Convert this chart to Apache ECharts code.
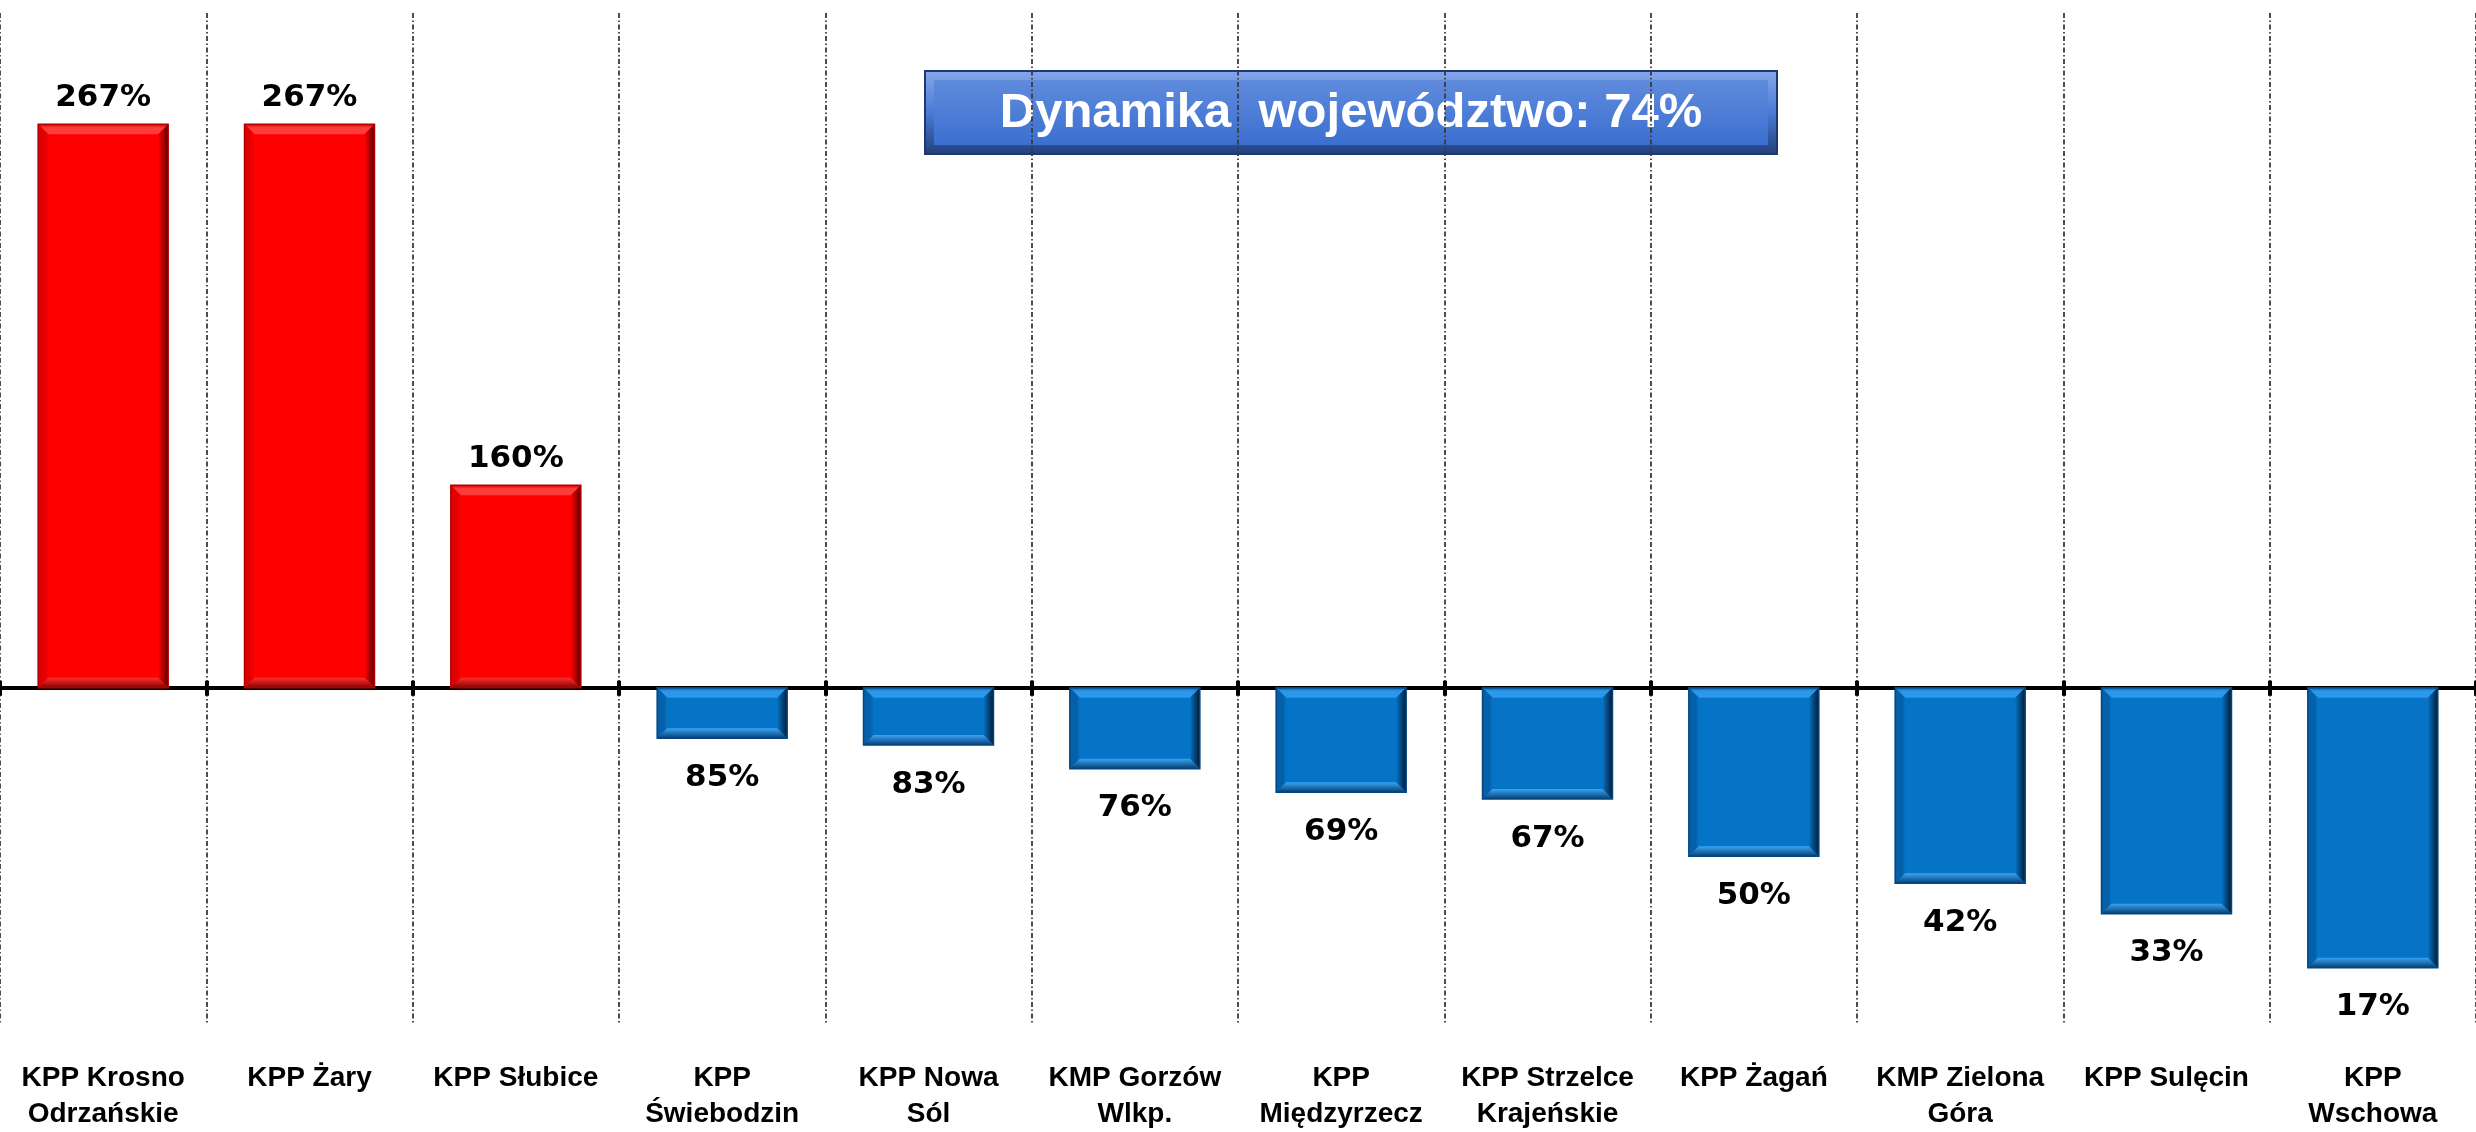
<!DOCTYPE html>
<html>
<head>
<meta charset="utf-8">
<script src="https://cdn.jsdelivr.net/npm/echarts@6/dist/echarts.min.js"></script>
<style>
html,body{margin:0;padding:0;background:#fff;}
#chart{width:2476px;height:1132px;}
</style>
</head>
<body>
<div id="chart"></div>
<script>
// ---- data ----
const categories = [
  'KPP Krosno\nOdrzańskie', 'KPP Żary', 'KPP Słubice', 'KPP\nŚwiebodzin', 'KPP Nowa\nSól',
  'KMP Gorzów\nWlkp.', 'KPP\nMiędzyrzecz', 'KPP Strzelce\nKrajeńskie', 'KPP Żagań',
  'KMP Zielona\nGóra', 'KPP Sulęcin', 'KPP\nWschowa'
];
const values = [267, 267, 160, 85, 83, 76, 69, 67, 50, 42, 33, 17];
const baseline = 100;
const regionValue = 74;
const titleText = 'Dynamika  województwo: ' + regionValue + '%';

// ---- styles ----
const RED = {face: '#ff0000', top: '#ff3c3c', topEdge: '#d80000', left: '#e00000', right: '#5a0000', bottom1: '#ff3030', bottom2: '#8a0000', edge: '#b00000'};
const BLUE = {face: '#0573c6', top: '#2b98ec', topEdge: '#0a5fa8', left: '#0560aa', right: '#011a33', bottom1: '#3aa4f4', bottom2: '#053f74', edge: '#04467e'};
const BAR_FRAC = 0.63;

const chart = echarts.init(document.getElementById('chart'));

const barData = values.map(v => {
  const up = v > baseline;
  const c = up ? RED : BLUE;
  return {
    value: v - baseline,
    itemStyle: {color: c.face},
    label: {position: up ? 'top' : 'bottom', distance: up ? 11 : 24}
  };
});
const bevelData = values.map((v, i) => [i, v - baseline, v > baseline ? 1 : 0]);

function renderBevel(params, api) {
  const idx = api.value(0);
  const dv = api.value(1);
  const c = api.value(2) ? RED : BLUE;
  const p1 = api.coord([idx, dv]);
  const p0 = api.coord([idx, 0]);
  const w = api.size([1, 0])[0] * BAR_FRAC;
  const x0 = p0[0] - w / 2, x1 = p0[0] + w / 2;
  const y0 = Math.min(p0[1], p1[1]), y1 = Math.max(p0[1], p1[1]);
  const h = y1 - y0;
  const b = Math.min(10, h / 3);
  const ix0 = x0 + b, ix1 = x1 - b, iy0 = y0 + b, iy1 = y1 - b;
  return {
    type: 'group',
    children: [
      {type: 'polygon', shape: {points: [[x0, y0], [x1, y0], [ix1, iy0], [ix0, iy0]]}, style: {
        fill: new echarts.graphic.LinearGradient(0, 0, 0, 1, [{offset: 0, color: c.topEdge}, {offset: 0.35, color: c.top}, {offset: 1, color: c.top}])}},
      {type: 'polygon', shape: {points: [[x0, y0], [ix0, iy0], [ix0, iy1], [x0, y1]]}, style: {
        fill: new echarts.graphic.LinearGradient(0, 0, 1, 0, [{offset: 0, color: c.left}, {offset: 0.7, color: c.left}, {offset: 1, color: c.face}])}},
      {type: 'polygon', shape: {points: [[x1, y0], [x1, y1], [ix1, iy1], [ix1, iy0]]}, style: {
        fill: new echarts.graphic.LinearGradient(0, 0, 1, 0, [{offset: 0, color: c.face}, {offset: 1, color: c.right}])}},
      {type: 'polygon', shape: {points: [[x0, y1], [ix0, iy1], [ix1, iy1], [x1, y1]]}, style: {
        fill: new echarts.graphic.LinearGradient(0, 0, 0, 1, [{offset: 0, color: c.bottom1}, {offset: 1, color: c.bottom2}])}},
      {type: 'rect', shape: {x: x0, y: y0, width: w, height: h}, style: {fill: 'none', stroke: c.edge, lineWidth: 1.5}}
    ]
  };
}

const catLabel = {
  fontFamily: '"Liberation Sans", Arial, sans-serif',
  fontWeight: 'bold',
  fontSize: 28,
  lineHeight: 36,
  color: '#000'
};

chart.setOption({
  animation: false,
  backgroundColor: '#ffffff',
  grid: {left: -5, right: -3, top: 13, bottom: 98, containLabel: false},
  xAxis: [
    {
      type: 'category', data: categories, position: 'bottom',
      axisLine: {show: false, onZero: false},
      axisTick: {show: false},
      axisLabel: Object.assign({interval: 0, margin: 35}, catLabel),
      splitLine: {show: true, lineStyle: {color: '#3a3a3a', width: 1.8, type: [5, 2.5, 1.5, 2.5]}}
    },
    {
      type: 'category', data: categories, position: 'bottom',
      axisLine: {show: true, onZero: true, onZeroAxisIndex: 0, lineStyle: {color: '#000', width: 4}},
      axisTick: {show: true, length: 8, lineStyle: {color: '#000', width: 4}},
      axisLabel: {show: false},
      splitLine: {show: false}
    },
    {
      type: 'category', data: categories, position: 'bottom',
      axisLine: {show: true, onZero: true, onZeroAxisIndex: 1, lineStyle: {color: 'rgba(0,0,0,0)', width: 0}},
      axisTick: {show: true, inside: true, length: 7, lineStyle: {color: '#000', width: 4}},
      axisLabel: {show: false},
      splitLine: {show: false}
    }
  ],
  yAxis: [
    {type: 'value', min: -100, max: 200, show: false, splitLine: {show: false}},
    {type: 'value', min: -100, max: 200, show: false, splitLine: {show: false}}
  ],
  series: [
    {
      type: 'bar', xAxisIndex: 0, yAxisIndex: 0, data: barData, barWidth: (BAR_FRAC * 100) + '%',
      label: {
        show: true,
        formatter: p => (p.value + baseline) + '%',
        fontFamily: '"DejaVu Sans", sans-serif',
        fontWeight: 'bold',
        fontSize: 31,
        color: '#000'
      }
    },
    {
      type: 'custom', xAxisIndex: 0, yAxisIndex: 0, data: bevelData, renderItem: renderBevel, z: 3, silent: true
    }
  ],
  graphic: [
    {
      type: 'group', left: 924, top: 70, z: 100,
      children: [
        {type: 'rect', shape: {x: 0, y: 0, width: 852, height: 83}, style: {
          fill: new echarts.graphic.LinearGradient(0, 0, 0, 1, [{offset: 0, color: '#86a8ea'}, {offset: 0.5, color: '#4a7bd6'}, {offset: 1, color: '#233f7a'}]),
          stroke: '#1d3970', lineWidth: 2}},
        {type: 'rect', shape: {x: 9, y: 9, width: 834, height: 65}, style: {
          fill: new echarts.graphic.LinearGradient(0, 0, 0, 1, [{offset: 0, color: '#5f8bdc'}, {offset: 1, color: '#3b6fd0'}])}},
        {type: 'text', style: {
          x: 426, y: 42, text: titleText, align: 'center', verticalAlign: 'middle',
          fill: '#ffffff', fontSize: 49, fontWeight: 'bold', fontFamily: '"Liberation Sans", Arial, sans-serif'}}
      ]
    }
  ]
});
</script>
</body>
</html>
